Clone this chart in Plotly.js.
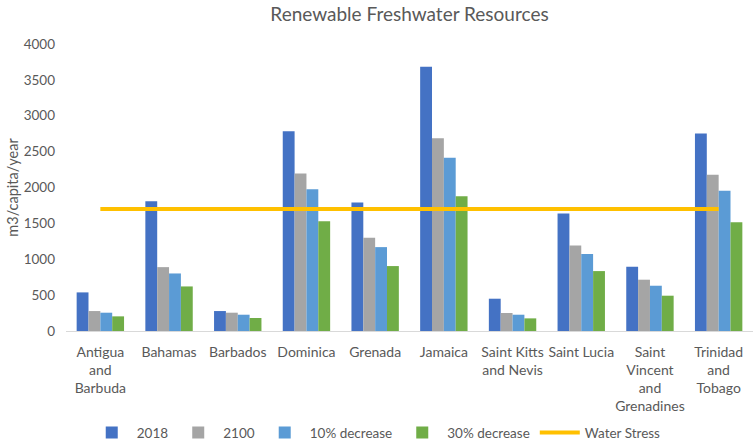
<!DOCTYPE html>
<html>
<head>
<meta charset="utf-8">
<script src="https://cdn.plot.ly/plotly-3.0.1.min.js"></script>
<style>
  html, body { margin: 0; padding: 0; background: #fff; }
  #chart { width: 754px; height: 443px; }
</style>
</head>
<body>
<div id="chart"></div>
<script>
const countries = [
  "Antigua<br>and<br>Barbuda", "Bahamas", "Barbados", "Dominica", "Grenada",
  "Jamaica", "Saint Kitts<br>and Nevis", "Saint Lucia",
  "Saint<br>Vincent<br>and<br>Grenadines", "Trinidad<br>and<br>Tobago"
];
const y2018 = [538, 1808, 278, 2784, 1791, 3684, 450, 1638, 896, 2752];
const y2100 = [278, 890, 255, 2195, 1299, 2687, 251, 1192, 715, 2176];
const dec10 = [255, 802, 227, 1977, 1169, 2413, 227, 1072, 631, 1953];
const dec30 = [204, 621, 181, 1531, 905, 1879, 176, 835, 492, 1517];
const waterStress = [1700, 1700, 1700, 1700, 1700, 1700, 1700, 1700, 1700, 1700];

const grey = '#595959';
const font = 'Lato, "Open Sans", sans-serif';

// bars
const bar = (name, vals, color) => ({
  x: countries, y: vals, name: name, type: 'bar',
  marker: { color: color }
});

const traces = [
  bar('2018', y2018, '#4472C4'),
  bar('2100', y2100, '#A5A5A5'),
  bar('10% decrease', dec10, '#5B9BD5'),
  bar('30% decrease', dec30, '#70AD47'),
  {
    x: countries, y: waterStress, name: 'Water Stress',
    type: 'scatter', mode: 'lines',
    line: { color: '#FFC000', width: 4 }
  }
];

const layout = {
  width: 754, height: 443,
  margin: { l: 66, r: 1, t: 44, b: 112 },
  paper_bgcolor: '#fff', plot_bgcolor: '#fff',
  font: { family: font, color: grey, size: 13.5 },
  title: {
    text: 'Renewable Freshwater Resources',
    font: { size: 19, color: grey },
    x: 0.5, xref: 'paper', xanchor: 'center',
    y: 0.968, yref: 'container', yanchor: 'middle'
  },
  barmode: 'group',
  bargap: 0.31,
  bargroupgap: 0,
  xaxis: {
    type: 'category',
    showgrid: false, zeroline: false,
    showline: true, linecolor: '#D9D9D9', linewidth: 1,
    ticks: '', ticklabelstandoff: 8, tickangle: 0,
    tickfont: { size: 14, color: grey },
    automargin: false
  },
  yaxis: {
    range: [0, 4000], dtick: 500,
    showgrid: false, zeroline: false, showline: false,
    ticks: '', ticklabelstandoff: 10,
    tickfont: { size: 13.5, color: grey },
    title: { text: 'm3/capita/year', font: { size: 14.5, color: grey }, standoff: 1 },
    automargin: false
  },
  legend: {
    orientation: 'h',
    xref: 'container', x: 0.499, xanchor: 'center',
    yref: 'container', y: 0.023, yanchor: 'middle',
    itemwidth: 40,
    font: { size: 13.5, color: grey },
    traceorder: 'normal'
  },
  showlegend: true
};

Plotly.newPlot('chart', traces, layout, { displayModeBar: false, staticPlot: true });
</script>
</body>
</html>
